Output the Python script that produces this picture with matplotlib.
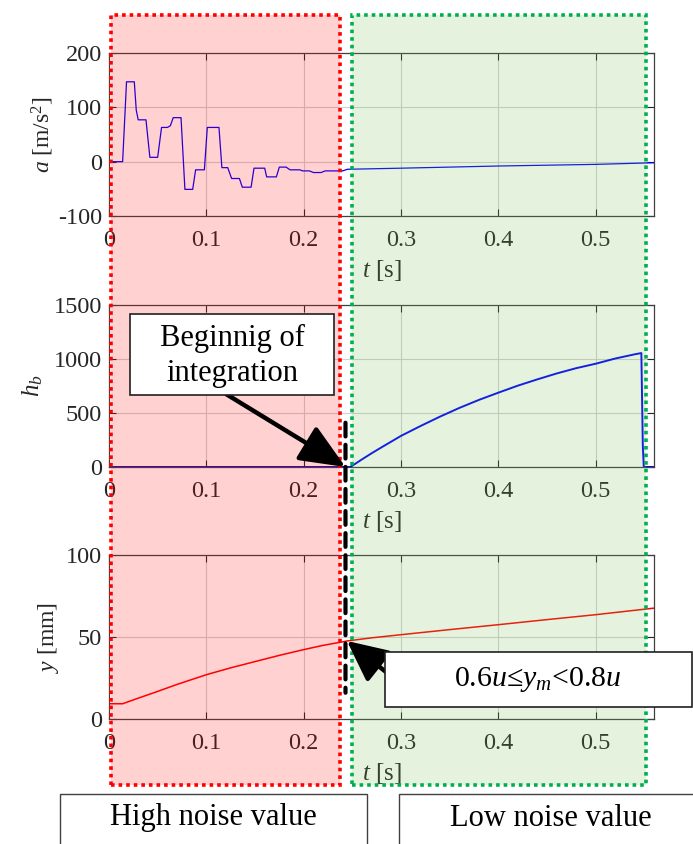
import matplotlib
matplotlib.use("Agg")
import matplotlib.pyplot as plt
import matplotlib.transforms as mtransforms
from matplotlib.patches import Rectangle, ConnectionPatch

plt.rcParams['font.family'] = ['Liberation Serif', 'DejaVu Serif']
plt.rcParams['mathtext.fontset'] = 'custom'
plt.rcParams['mathtext.rm'] = 'Liberation Serif'
plt.rcParams['mathtext.it'] = 'Liberation Serif:italic'
plt.rcParams['mathtext.bf'] = 'Liberation Serif:bold'
plt.rcParams['axes.unicode_minus'] = False

# acceleration a [m/s^2]
t_a = [0, 0.014, 0.017, 0.018, 0.026, 0.028, 0.030, 0.038, 0.042, 0.050, 0.054, 0.060,
       0.063, 0.066, 0.074, 0.078, 0.086, 0.089, 0.098, 0.101, 0.113, 0.116, 0.122,
       0.126, 0.134, 0.137, 0.146, 0.149, 0.160, 0.162, 0.172, 0.175, 0.182, 0.186,
       0.196, 0.199, 0.206, 0.210, 0.218, 0.222, 0.240, 0.245, 0.30, 0.40, 0.50, 0.56]
a = [0, 0, 110, 147, 147, 95, 77, 77, 8, 8, 63, 63, 66, 81, 81, -51, -51, -15, -15,
     63, 63, -11, -11, -31, -31, -47, -47, -12, -12, -28, -28, -10, -10, -15, -15,
     -17, -17, -20, -20, -17, -17, -14, -12, -8, -5, -2]

# integral h_b
t_h = [0, 0.248, 0.26, 0.27, 0.28, 0.30, 0.32, 0.34, 0.36, 0.38, 0.40, 0.42, 0.44,
       0.46, 0.48, 0.50, 0.52, 0.54, 0.547, 0.5485, 0.5495, 0.56]
h_b = [0, 0, 71, 128, 182, 288, 379, 466, 547, 621, 688, 753, 811,
       866, 915, 956, 1004, 1043, 1055, 200, 0, 0]

# position y [mm]
t_y = [0, 0.014, 0.03, 0.047, 0.07, 0.1, 0.125, 0.15, 0.175, 0.2, 0.22, 0.245,
       0.27, 0.3, 0.35, 0.4, 0.45, 0.5, 0.56]
y = [9.3, 9.3, 12.7, 16.2, 21.1, 27.0, 31.2, 35.0, 38.8, 42.3, 44.9, 47.6,
     49.5, 51.4, 54.5, 57.5, 60.6, 63.6, 67.6]

t_start = 0.243          # beginning of integration
high_noise = (0.002, 0.237)
low_noise = (0.250, 0.552)

fig = plt.figure(figsize=(6.93, 8.44), dpi=100)
W, H = 693, 844

def px_rect(x0, y0, x1, y1):
    return [x0 / W, 1 - y1 / H, (x1 - x0) / W, (y1 - y0) / H]

dark = '#262626'
ax1 = fig.add_axes(px_rect(109, 53, 654, 216))
ax2 = fig.add_axes(px_rect(109, 305, 654, 467))
ax3 = fig.add_axes(px_rect(109, 555, 654, 719))

ax1.plot(t_a, a, color='blue', lw=0.9)
ax2.plot(t_h, h_b, color='blue', lw=1.4)
ax3.plot(t_y, y, color='red', lw=1.1)

ax1.set_ylim(-100, 200)
ax1.set_yticks([-100, 0, 100, 200])
ax2.set_ylim(0, 1500)
ax2.set_yticks([0, 500, 1000, 1500])
ax3.set_ylim(0, 100)
ax3.set_yticks([0, 50, 100])

for ax in (ax1, ax2, ax3):
    ax.set_xlim(0, 0.56)
    ax.set_xticks([0, 0.1, 0.2, 0.3, 0.4, 0.5])
    ax.set_xticklabels(['0', '0.1', '0.2', '0.3', '0.4', '0.5'])
    ax.grid(True, color='#d0d0d0', lw=0.8)
    ax.set_axisbelow(True)
    ax.tick_params(direction='in', top=True, right=True, length=5,
                   labelsize=17.5, colors=dark, width=0.8)
    ax.tick_params(axis='x', pad=10)
    ax.tick_params(axis='y', pad=5)
    for s in ax.spines.values():
        s.set_color('#404040')
        s.set_linewidth(0.9)
    ax.set_xlabel(r'$t$ [s]', fontsize=18, color=dark, labelpad=5)

ax1.set_ylabel(r'$a$ [m/s$^2$]', fontsize=17, color=dark)
ax1.yaxis.set_label_coords(-0.098, 0.5)
ax2.set_ylabel(r'$h_b$', fontsize=18, color=dark)
ax2.yaxis.set_label_coords(-0.118, 0.5)
ax3.set_ylabel(r'$y$ [mm]', fontsize=17, color=dark)
ax3.yaxis.set_label_coords(-0.088, 0.5)

# shaded regions (drawn on top, semi-transparent)
tr = mtransforms.blended_transform_factory(ax1.transData, fig.transFigure)
ybot, ytop = 1 - 785 / H, 1 - 15 / H
for (x0, x1), fc, ec in [(high_noise, (1.0, 0.0, 0.0), 'red'),
                         (low_noise, (0.45, 0.75, 0.3), '#00b050')]:
    fig.add_artist(Rectangle((x0, ybot), x1 - x0, ytop - ybot, transform=tr,
                             facecolor=fc, alpha=0.18, edgecolor='none', zorder=5))
    fig.add_artist(Rectangle((x0, ybot), x1 - x0, ytop - ybot, transform=tr,
                             facecolor='none', edgecolor=ec, lw=2.6,
                             linestyle=(0, (1, 1.1)), zorder=6))

# dashed line at beginning of integration
fig.add_artist(ConnectionPatch(xyA=(t_start, 410), coordsA=ax2.transData,
                               xyB=(t_start, 16), coordsB=ax3.transData,
                               arrowstyle='-', color='black', lw=3,
                               linestyle=(0, (3.3, 2)), zorder=7))

# annotation boxes
def box(x0, y0, x1, y1, ec='black', lw=1.0):
    fig.add_artist(Rectangle((x0 / W, 1 - y1 / H), (x1 - x0) / W, (y1 - y0) / H,
                             transform=fig.transFigure, facecolor='white',
                             edgecolor=ec, lw=lw, zorder=9))

box(130, 314, 334, 395, ec='#202020', lw=1.2)
fig.text(232 / W, 1 - 356 / H, 'Beginnig of\nintegration', ha='center', va='center',
         fontsize=22, linespacing=1.3, zorder=10)
fig.add_artist(ConnectionPatch(xyA=(226 / W, 1 - 394 / H), coordsA='figure fraction',
                               xyB=(t_start, 0), coordsB=ax2.transData,
                               arrowstyle='-|>,head_length=1.4,head_width=0.6',
                               mutation_scale=20, color='black', lw=3.2, zorder=8))

box(385, 652, 692, 707, ec='#202020', lw=1.2)
fig.text(538 / W, 1 - 680 / H, r'0.6$u$≤$y_m$<0.8$u$', ha='center', va='center',
         fontsize=21.5, zorder=10)
fig.add_artist(ConnectionPatch(xyA=(386 / W, 1 - 672 / H), coordsA='figure fraction',
                               xyB=(0.2445, 47.6), coordsB=ax3.transData,
                               arrowstyle='-|>,head_length=1.25,head_width=0.6',
                               mutation_scale=20, color='black', lw=3.2, zorder=8))

# bottom labels
box(60, 794, 367, 860, ec='#404040', lw=1.0)
fig.text(213.5 / W, 1 - 818 / H, 'High noise value', ha='center', va='center',
         fontsize=22, zorder=10)
box(399, 794, 703, 860, ec='#404040', lw=1.0)
fig.text(551 / W, 1 - 818 / H, 'Low noise value', ha='center', va='center',
         fontsize=22, zorder=10)

fig.savefig('out.png', dpi=100)
